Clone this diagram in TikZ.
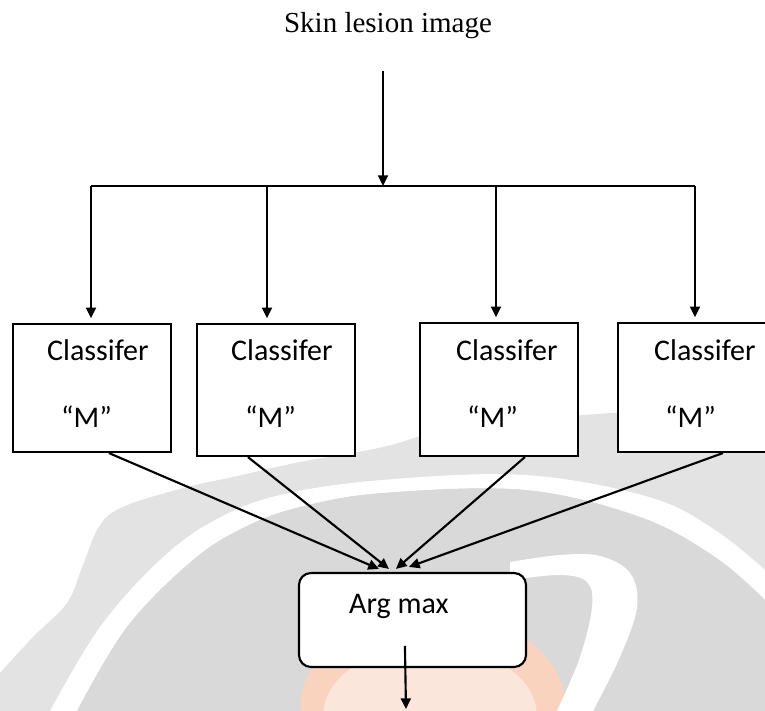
\documentclass[tikz,border=0pt]{standalone}
\usepackage{fontspec}
\setmainfont{Liberation Serif}
\newfontfamily\boxfont{Carlito}
\usetikzlibrary{arrows.meta,calc,fit}
\definecolor{wmlight}{HTML}{E3E3E3}
\definecolor{wmdark}{HTML}{D9D9D9}
\definecolor{wmorange}{HTML}{F9D3BE}
\begin{document}
\begin{tikzpicture}[x=0.75pt,y=-0.75pt,
  box/.style={draw, line width=1.6pt, fill=white, inner sep=0pt, rectangle},
  rbox/.style={box, rounded corners=9pt},
  lbl/.style={font=\boxfont\fontsize{22.5}{26}\selectfont, inner sep=0pt, anchor=base west},
  ttl/.style={font=\fontsize{21.75}{26}\selectfont, inner sep=0pt, anchor=base},
  wire/.style={line width=1.6pt},
  arr/.style={wire, -{Triangle[length=8pt,width=7.5pt]}}]
\useasboundingbox (0,0) rectangle (765,711);

% faint watermark in the background
\fill[wmlight] plot[smooth, tension=0.6] coordinates {(0,673) (33,637) (67,603) (83,565) (100,525) (125,506) (187,487) (233,477) (300,462) (383,447) (450,428) (523,420) (613,413) (700,410) (765,412)}
  -- (765,711) -- (0,711) -- cycle;
\fill[white] plot[smooth, tension=0.6] coordinates {(50,711) (100,627) (160,560) (215,520) (280,495) (382,480) (525,475) (649,497) (715,530) (765,570)}
  -- plot[smooth, tension=0.6] coordinates {(765,600) (715,557) (640,517) (525,490) (383,493) (300,507) (245,527) (193,560) (127,627) (77,711)} -- cycle;
\fill[wmdark] plot[smooth, tension=0.6] coordinates {(77,711) (127,627) (193,560) (245,527) (300,507) (383,493) (525,490) (640,517) (715,557) (765,600)}
  -- (765,711) -- cycle;
\fill[wmorange] (433,705) ellipse [x radius=99pt, y radius=70pt];
\fill[white, opacity=0.45] (430,715) ellipse [x radius=80pt, y radius=52pt];
\fill[white] plot[smooth, tension=0.6] coordinates {(510,562) (560,555) (600,556) (630,573) (637,607) (620,657) (593,711)}
  -- plot[smooth, tension=0.6] coordinates {(557,711) (580,657) (592,607) (587,582) (560,575) (510,580)} -- cycle;

% title and input arrow
\node[ttl] (title) at (388,32) {Skin lesion image};
\coordinate (src) at (383,71);
\coordinate (hub) at (383,186);
\coordinate (j1) at (91,186);
\coordinate (j2) at (267,186);
\coordinate (j3) at (496,186);
\coordinate (j4) at (695,186);

% classifier boxes
\node[box, fit={(13,324) (171,452)}] (b1) {};
\node[box, fit={(197,324) (355,456)}] (b2) {};
\node[box, fit={(420,323) (578,456)}] (b3) {};
\node[box, fit={(618,323) (800,452)}] (b4) {};
\foreach \b in {b1,b2}{
  \node[lbl] at ($(\b.north west)+(35,38)$) {Classifer};
  \node[lbl] at ($(\b.north west)+(49,105)$) {“M”};
}
\foreach \b in {b3,b4}{
  \node[lbl] at ($(\b.north west)+(37,39)$) {Classifer};
  \node[lbl] at ($(\b.north west)+(48,106)$) {“M”};
}

% arg max box
\node[rbox, fit={(299,573) (526,667)}] (am) {};
\node[lbl] at ($(am.north west)+(51,42)$) {Arg max};
\coordinate (out) at (406,709);

% connectors
\draw[arr] (src) -- (hub);
\draw[wire] (j1) -- (j4);
\draw[arr, shorten >=3.5pt] (j1) -- (j1 |- b1.north);
\draw[arr, shorten >=3.5pt] (j2) -- (j2 |- b2.north);
\draw[arr, shorten >=3.5pt] (j3) -- (j3 |- b3.north);
\draw[arr, shorten >=3.5pt] (j4) -- (j4 |- b4.north);
\draw[arr] ($(b1.south west)+(97,0)$) -- ($(am.north west)+(81,-3)$);
\draw[arr] ($(b2.south west)+(52,0)$) -- ($(am.north west)+(91,-3)$);
\draw[arr] ($(b3.south west)+(106,0)$) -- ($(am.north west)+(98,-3)$);
\draw[arr] ($(b4.south west)+(106,0)$) -- ($(am.north west)+(111,-5)$);
\draw[arr] ($(am.north west)+(107,74)$) -- (out);
\end{tikzpicture}
\end{document}
